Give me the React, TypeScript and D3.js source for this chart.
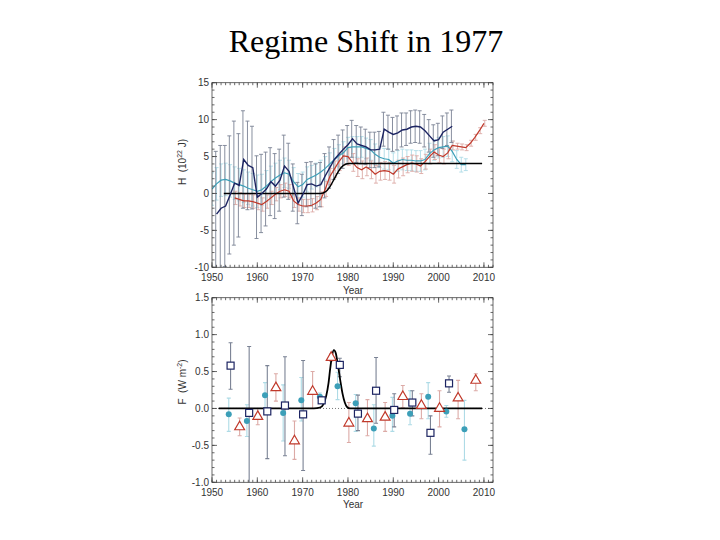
import React from "react";
import * as d3 from "d3";

const W = 720;
const H = 540;

const yearTicks = [1950, 1960, 1970, 1980, 1990, 2000, 2010];
const heatTicks = [-10, -5, 0, 5, 10, 15];
const forcingTicks = [-1.0, -0.5, 0.0, 0.5, 1.0, 1.5];

// top panel: [year, H (10^22 J), error half-width]
const navyHeat: [number, number, number][] = [
  [1951, -2.8, 8.5], [1952, -2.0, 8.5], [1953, -1.7, 8.2], [1954, -0.2, 8.0],
  [1955, 1.4, 8.4], [1956, 1.1, 7.0], [1957, 4.6, 6.6], [1958, 3.8, 6.0],
  [1959, 3.5, 5.6], [1960, -0.5, 5.6], [1961, 0.0, 5.3], [1962, 0.6, 5.0],
  [1963, 1.6, 4.6], [1964, 1.0, 4.4], [1965, 1.8, 4.2], [1966, 3.7, 4.2],
  [1967, 3.0, 3.8], [1968, 0.8, 3.2], [1969, -1.3, 2.8], [1970, -0.2, 2.8],
  [1971, 1.2, 3.0], [1972, 1.3, 3.0], [1973, 1.0, 3.0], [1974, 1.2, 3.0],
  [1975, 2.4, 3.0], [1976, 3.5, 2.8], [1977, 4.6, 2.7], [1978, 5.3, 2.6],
  [1979, 6.0, 2.6], [1980, 6.6, 2.6], [1981, 7.4, 2.5], [1982, 6.7, 2.5],
  [1983, 6.5, 2.5], [1984, 6.3, 2.4], [1985, 5.9, 2.4], [1986, 5.9, 2.4],
  [1987, 6.0, 2.4], [1988, 8.7, 2.3], [1989, 8.3, 2.3], [1990, 8.0, 2.3],
  [1991, 8.2, 2.3], [1992, 8.6, 2.3], [1993, 8.7, 2.2], [1994, 9.0, 2.2],
  [1995, 9.1, 2.2], [1996, 9.0, 2.2], [1997, 8.5, 2.2], [1998, 7.8, 2.2],
  [1999, 7.1, 2.2], [2000, 7.3, 2.2], [2001, 8.3, 2.2], [2002, 8.7, 2.2],
  [2003, 9.1, 2.2],
];

const cyanHeat: [number, number, number][] = [
  [1950, 0.6, 2.2], [1951, 1.3, 2.2], [1952, 1.8, 2.2], [1953, 1.9, 2.2],
  [1954, 1.7, 2.2], [1955, 1.4, 2.2], [1956, 1.2, 2.2], [1957, 1.0, 2.2],
  [1958, 0.7, 2.2], [1959, 0.5, 2.2], [1960, 0.3, 2.2], [1961, 0.5, 2.1],
  [1962, 1.0, 2.1], [1963, 1.6, 2.1], [1964, 2.1, 2.0], [1965, 2.5, 2.0],
  [1966, 2.8, 2.0], [1967, 2.6, 1.9], [1968, 1.6, 1.9], [1969, 0.9, 1.8],
  [1970, 1.2, 1.7], [1971, 1.9, 1.7], [1972, 2.2, 1.6], [1973, 2.5, 1.6],
  [1974, 2.9, 1.6], [1975, 3.4, 1.6], [1976, 4.0, 1.5], [1977, 4.6, 1.5],
  [1978, 5.1, 1.5], [1979, 5.5, 1.5], [1980, 6.2, 1.4], [1981, 6.3, 1.4],
  [1982, 6.3, 1.4], [1983, 6.3, 1.4], [1984, 6.1, 1.4], [1985, 5.9, 1.4],
  [1986, 5.3, 1.4], [1987, 4.9, 1.4], [1988, 4.7, 1.4], [1989, 4.6, 1.4],
  [1990, 4.1, 1.4], [1991, 4.4, 1.4], [1992, 4.6, 1.4], [1993, 4.5, 1.4],
  [1994, 4.5, 1.4], [1995, 4.4, 1.4], [1996, 4.4, 1.4], [1997, 4.6, 1.4],
  [1998, 5.4, 1.4], [1999, 5.9, 1.4], [2000, 6.2, 1.4], [2001, 6.3, 1.4],
  [2002, 6.4, 1.4], [2003, 5.7, 1.4], [2004, 4.6, 1.2], [2005, 3.9, 1.0],
  [2006, 3.9, 0.8],
];

const redHeat: [number, number, number][] = [
  [1955, -0.6, 0.9], [1956, -0.8, 0.9], [1957, -1.0, 0.9], [1958, -1.0, 0.9],
  [1959, -1.1, 0.9], [1960, -1.3, 0.9], [1961, -1.5, 0.9], [1962, -1.1, 0.9],
  [1963, -0.6, 0.9], [1964, -0.1, 0.9], [1965, 0.3, 0.9], [1966, 0.5, 0.9],
  [1967, 0.3, 0.9], [1968, -1.0, 0.9], [1969, -1.5, 0.9], [1970, -1.7, 0.9],
  [1971, -1.7, 0.9], [1972, -1.6, 0.9], [1973, -1.3, 0.9], [1974, -0.8, 1.0],
  [1975, 0.6, 1.0], [1976, 2.3, 1.1], [1977, 3.3, 1.1], [1978, 4.3, 1.2],
  [1979, 5.1, 1.2], [1980, 5.0, 1.2], [1981, 4.2, 1.2], [1982, 3.5, 1.2],
  [1983, 3.2, 1.2], [1984, 3.6, 1.2], [1985, 3.2, 1.2], [1986, 2.6, 1.2],
  [1987, 3.0, 1.2], [1988, 3.1, 1.2], [1989, 3.0, 1.2], [1990, 2.6, 1.2],
  [1991, 3.3, 1.2], [1992, 3.6, 1.2], [1993, 3.9, 1.1], [1994, 4.1, 1.1],
  [1995, 4.0, 1.1], [1996, 3.7, 1.0], [1997, 4.3, 1.0], [1998, 5.0, 1.0],
  [1999, 5.6, 1.0], [2000, 5.2, 1.0], [2001, 5.0, 1.0], [2002, 5.5, 0.8],
  [2003, 6.5, 0.6], [2004, 6.4, 0.4], [2005, 6.3, 0.4], [2006, 6.2, 0.4],
  [2007, 6.8, 0.4], [2008, 7.6, 0.4], [2009, 8.5, 0.4], [2010, 9.5, 0.4],
];

// fitted regime shift (integrated), [year, H]
const shiftHeat: [number, number][] = [
  [1952.6, 0], [1974.0, 0], [1975.0, 0.2], [1976.0, 0.9], [1977.0, 2.0],
  [1978.0, 3.1], [1979.0, 3.8], [1980.2, 4.05], [2009.6, 4.05],
];

// bottom panel: [year, F (W m^-2), low, high]
const cyanForcing: [number, number, number, number][] = [
  [1953.7, -0.08, -0.31, 0.14], [1957.7, -0.17, -0.38, 0.05],
  [1961.7, 0.18, 0.01, 0.35], [1965.7, -0.06, -0.44, 0.32],
  [1969.7, 0.11, -0.17, 0.42], [1973.8, 0.16, 0.11, 0.21],
  [1977.7, 0.3, 0.12, 0.49], [1981.7, 0.07, -0.31, 0.19],
  [1985.7, -0.27, -0.51, 0.05], [1989.8, -0.1, -0.31, 0.15],
  [1993.7, -0.07, -0.22, 0.24], [1997.7, 0.16, -0.14, 0.35],
  [2001.7, -0.04, -0.12, 0.04], [2005.7, -0.28, -0.7, 0.11],
];

const redForcing: [number, number, number, number][] = [
  [1956.1, -0.25, -0.37, -0.13], [1960.1, -0.11, -0.22, 0.0],
  [1964.1, 0.28, 0.1, 0.47], [1968.2, -0.44, -0.69, -0.17],
  [1972.2, 0.23, 0.0, 0.5], [1976.3, 0.69, 0.64, 0.74],
  [1980.2, -0.2, -0.46, 0.08], [1984.3, -0.14, -0.37, 0.12],
  [1988.2, -0.12, -0.31, 0.08], [1992.1, 0.16, 0.01, 0.31],
  [1996.2, 0.04, -0.14, 0.2], [2000.2, 0.0, -0.25, 0.24],
  [2004.3, 0.14, -0.14, 0.38], [2008.2, 0.38, 0.24, 0.47],
];

const navyForcing: [number, number, number, number][] = [
  [1954.1, 0.58, 0.26, 0.89], [1958.2, -0.06, -1.05, 0.84],
  [1962.2, -0.04, -0.68, 0.58], [1966.1, 0.04, -0.64, 0.7],
  [1970.1, -0.08, -0.84, 0.65], [1974.2, 0.11, 0.07, 0.15],
  [1978.2, 0.59, 0.43, 0.68], [1982.2, -0.07, -0.3, 0.18],
  [1986.2, 0.24, -0.2, 0.69], [1990.2, -0.02, -0.25, 0.2],
  [1994.2, 0.08, -0.1, 0.24], [1998.2, -0.33, -0.62, -0.1],
  [2002.3, 0.34, 0.22, 0.44],
];

// fitted forcing pulse, [year, F]
const shiftForcing: [number, number][] = [
  [1951.5, 0], [1972.5, 0], [1973.8, 0.01], [1974.6, 0.06], [1975.2, 0.17],
  [1975.7, 0.34], [1976.1, 0.55], [1976.5, 0.72], [1976.9, 0.79],
  [1977.3, 0.75], [1977.8, 0.58], [1978.3, 0.38], [1978.8, 0.2],
  [1979.3, 0.08], [1979.8, 0.02], [1980.5, 0], [2009.6, 0],
];

const NAVY = "#1c2462";
const NAVY_BAR = "#7a8294";
const CYAN = "#3c9fb8";
const CYAN_BAR = "#aedbe6";
const RED = "#c0392b";
const RED_BAR = "#dcaaa6";
const FONT = "'Liberation Sans', Arial, sans-serif";

const left = 212;
const right = 493;
const x = d3.scaleLinear().domain([1950, 2012]).range([left, right]);

const Frame = ({
  y,
  ticks,
  minor,
  fmt,
}: {
  y: d3.ScaleLinear<number, number>;
  ticks: number[];
  minor: number[];
  fmt: (v: number) => string;
}) => {
  const [bottom, top] = y.range();
  const minorYears = d3.range(1950, 2012.01, 1);
  return (
    <g stroke="#444" strokeWidth={0.8} fill="none">
      <rect x={left} y={top} width={right - left} height={bottom - top} />
      {minorYears.map((yr) => (
        <g key={"mx" + yr}>
          <line x1={x(yr)} x2={x(yr)} y1={bottom} y2={bottom - 2.5} />
          <line x1={x(yr)} x2={x(yr)} y1={top} y2={top + 2.5} />
        </g>
      ))}
      {yearTicks.map((yr) => (
        <g key={"Mx" + yr}>
          <line x1={x(yr)} x2={x(yr)} y1={bottom} y2={bottom - 5} />
          <line x1={x(yr)} x2={x(yr)} y1={top} y2={top + 5} />
          <text
            x={x(yr)}
            y={bottom + 14}
            textAnchor="middle"
            fill="#333"
            stroke="none"
            fontSize={10}
            fontFamily={FONT}
          >
            {yr}
          </text>
        </g>
      ))}
      {minor.map((v, i) => (
        <g key={"my" + i}>
          <line x1={left} x2={left + 2.5} y1={y(v)} y2={y(v)} />
          <line x1={right} x2={right - 2.5} y1={y(v)} y2={y(v)} />
        </g>
      ))}
      {ticks.map((v) => (
        <g key={"My" + v}>
          <line x1={left} x2={left + 5} y1={y(v)} y2={y(v)} />
          <line x1={right} x2={right - 5} y1={y(v)} y2={y(v)} />
          <text
            x={left - 3}
            y={y(v) + 3.5}
            textAnchor="end"
            fill="#333"
            stroke="none"
            fontSize={10}
            fontFamily={FONT}
          >
            {fmt(v)}
          </text>
        </g>
      ))}
    </g>
  );
};

const ErrBar = ({
  cx,
  y1,
  y2,
  color,
  w = 1,
}: {
  cx: number;
  y1: number;
  y2: number;
  color: string;
  w?: number;
}) => (
  <g stroke={color} strokeWidth={w} fill="none">
    <line x1={cx} x2={cx} y1={y1} y2={y2} />
    <line x1={cx - 2} x2={cx + 2} y1={y1} y2={y1} />
    <line x1={cx - 2} x2={cx + 2} y1={y2} y2={y2} />
  </g>
);

export default function App() {
  const yTop = d3.scaleLinear().domain([-10, 15]).range([267.3, 82.7]);
  const yBot = d3.scaleLinear().domain([-1, 1.5]).range([482.3, 297.7]);

  const lineTop = d3
    .line<[number, number, number]>()
    .x((d) => x(d[0]))
    .y((d) => yTop(d[1]));
  const shiftTopLine = d3
    .line<[number, number]>()
    .x((d) => x(d[0]))
    .y((d) => yTop(d[1]))
    .curve(d3.curveMonotoneX);
  const shiftBotLine = d3
    .line<[number, number]>()
    .x((d) => x(d[0]))
    .y((d) => yBot(d[1]))
    .curve(d3.curveMonotoneX);

  const tri = d3.symbol(d3.symbolTriangle, 42)();
  const sq = 7;

  return (
    <svg
      width={W}
      height={H}
      viewBox={`0 0 ${W} ${H}`}
      style={{ position: "absolute", left: 0, top: 0, background: "#fff" }}
    >
      <defs>
        <clipPath id="clipTop">
          <rect x={left} y={82.7} width={right - left} height={267.3 - 82.7} />
        </clipPath>
        <clipPath id="clipBot">
          <rect x={left} y={297.7} width={right - left} height={482.3 - 297.7} />
        </clipPath>
      </defs>

      <text
        x={366}
        y={52}
        textAnchor="middle"
        fontFamily="'Liberation Serif', 'Times New Roman', serif"
        fontSize={32}
        fill="#000"
      >
        Regime Shift in 1977
      </text>

      {/* top panel: heat content */}
      <g clipPath="url(#clipTop)">
        {cyanHeat.map((d) => (
          <ErrBar key={"cb" + d[0]} cx={x(d[0])} y1={yTop(d[1] + d[2])} y2={yTop(d[1] - d[2])} color={CYAN_BAR} w={0.9} />
        ))}
        {redHeat.map((d) => (
          <ErrBar key={"rb" + d[0]} cx={x(d[0]) + 0.8} y1={yTop(d[1] + d[2])} y2={yTop(d[1] - d[2])} color={RED_BAR} w={0.9} />
        ))}
        {navyHeat.map((d) => (
          <ErrBar key={"nb" + d[0]} cx={x(d[0]) - 0.8} y1={yTop(d[1] + d[2])} y2={yTop(d[1] - d[2])} color={NAVY_BAR} w={0.9} />
        ))}
        <path d={lineTop(cyanHeat) ?? ""} fill="none" stroke={CYAN} strokeWidth={1.2} />
        <path d={lineTop(redHeat) ?? ""} fill="none" stroke={RED} strokeWidth={1.2} />
        <path d={shiftTopLine(shiftHeat) ?? ""} fill="none" stroke="#000" strokeWidth={1.5} />
        <path d={lineTop(navyHeat) ?? ""} fill="none" stroke={NAVY} strokeWidth={1.4} />
      </g>
      <Frame
        y={yTop}
        ticks={heatTicks}
        minor={d3.range(-10, 15.01, 1)}
        fmt={(v) => String(v)}
      />
      <text
        transform={`translate(186,162) rotate(-90)`}
        textAnchor="middle"
        fontFamily={FONT}
        fontSize={10}
        fill="#333"
        style={{ whiteSpace: "pre" }}
      >
        {"H  (10"}
        <tspan dy={-4} fontSize={7}>22</tspan>
        <tspan dy={4}> J)</tspan>
      </text>
      <text x={353} y={294} textAnchor="middle" fontFamily={FONT} fontSize={10} fill="#333">
        Year
      </text>

      {/* bottom panel: forcing */}
      <g clipPath="url(#clipBot)">
        <line
          x1={left}
          x2={right}
          y1={yBot(0)}
          y2={yBot(0)}
          stroke="#555"
          strokeWidth={0.8}
          strokeDasharray="1,2"
        />
        {cyanForcing.map((d) => (
          <ErrBar key={"cf" + d[0]} cx={x(d[0])} y1={yBot(d[3])} y2={yBot(d[2])} color={CYAN_BAR} w={1.1} />
        ))}
        {redForcing.map((d) => (
          <ErrBar key={"rf" + d[0]} cx={x(d[0])} y1={yBot(d[3])} y2={yBot(d[2])} color={RED_BAR} w={1.1} />
        ))}
        {navyForcing.map((d) => (
          <ErrBar key={"nf" + d[0]} cx={x(d[0])} y1={yBot(d[3])} y2={yBot(d[2])} color={NAVY_BAR} w={1.1} />
        ))}
        <path d={shiftBotLine(shiftForcing) ?? ""} fill="none" stroke="#000" strokeWidth={1.8} />
        {cyanForcing.map((d) => (
          <circle key={"cm" + d[0]} cx={x(d[0])} cy={yBot(d[1])} r={3} fill={CYAN} />
        ))}
        {redForcing.map((d) => (
          <path
            key={"rm" + d[0]}
            d={tri ?? ""}
            transform={`translate(${x(d[0])},${yBot(d[1])})`}
            fill="#fff"
            stroke={RED}
            strokeWidth={1.2}
          />
        ))}
        {navyForcing.map((d) => (
          <rect
            key={"nm" + d[0]}
            x={x(d[0]) - sq / 2}
            y={yBot(d[1]) - sq / 2}
            width={sq}
            height={sq}
            fill="#fff"
            stroke={NAVY}
            strokeWidth={1.2}
          />
        ))}
      </g>
      <Frame
        y={yBot}
        ticks={forcingTicks}
        minor={d3.range(-1, 1.501, 0.1)}
        fmt={(v) => v.toFixed(1)}
      />
      <text
        transform={`translate(186,382) rotate(-90)`}
        textAnchor="middle"
        fontFamily={FONT}
        fontSize={10}
        fill="#333"
        style={{ whiteSpace: "pre" }}
      >
        {"F  (W m"}
        <tspan dy={-4} fontSize={7}>-2</tspan>
        <tspan dy={4}>)</tspan>
      </text>
      <text x={353} y={508} textAnchor="middle" fontFamily={FONT} fontSize={10} fill="#333">
        Year
      </text>
    </svg>
  );
}
